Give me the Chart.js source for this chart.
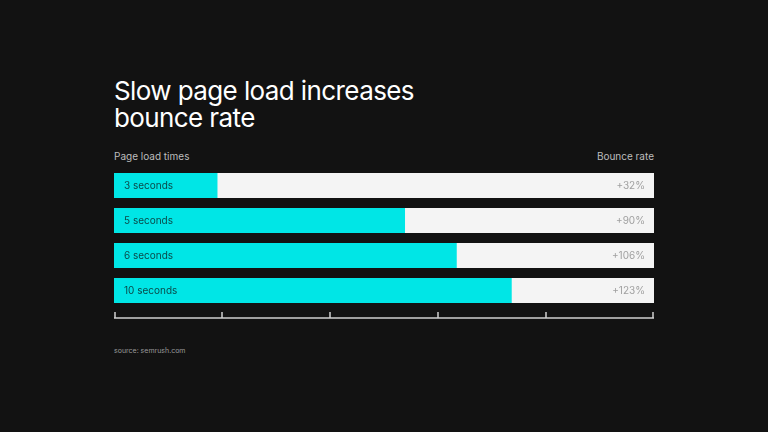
<!DOCTYPE html>
<html><head><meta charset="utf-8">
<script src="https://cdn.jsdelivr.net/npm/chart.js@4"></script>
<style>
html,body{margin:0;padding:0;background:#121212;width:768px;height:432px;overflow:hidden;font-family:Inter,"Noto Sans",sans-serif}
#wrap{position:absolute;left:0;top:0;width:768px;height:432px}
.t{position:absolute;left:114px;top:77px;color:#fff;font-size:26px;line-height:27px;letter-spacing:-0.6px}
.h{position:absolute;top:150px;color:#bdbdbd;font-size:10px}
.s{position:absolute;left:114px;top:346px;color:#9a9a9a;font-size:7px}
</style></head><body>
<div class="t">Slow page load increases<br>bounce rate</div>
<div class="h" style="left:114px">Page load times</div>
<div class="h" style="right:114px">Bounce rate</div>
<div class="s">source: semrush.com</div>
<div id="wrap"><canvas id="c" width="768" height="432"></canvas></div>
<script>
const categories = ["3 seconds","5 seconds","6 seconds","10 seconds"];
const bounceRate = [32, 90, 106, 123];
const valueLabels = ["+32%","+90%","+106%","+123%"];
const axisMax = 167;
const tickValues = [0, 33.4, 66.8, 100.2, 133.6, 167];

const labelPlugin = {
  id:'labels',
  afterDatasetsDraw(chart){
    const ctx = chart.ctx, x = chart.scales.x, y = chart.scales.y;
    ctx.save();
    ctx.font = '10px Inter, "Noto Sans", sans-serif';
    ctx.textBaseline = 'middle';
    categories.forEach((c,i)=>{
      const py = y.getPixelForValue(i);
      ctx.fillStyle = '#0a4a4a'; ctx.textAlign='left';
      ctx.fillText(c, x.left + 10, py);
      ctx.fillStyle = '#a0a0a0'; ctx.textAlign='right';
      ctx.fillText(valueLabels[i], x.right - 9, py);
    });
    // axis
    const ay = 318;
    ctx.strokeStyle = '#d0d0d0'; ctx.lineWidth = 1.5;
    ctx.beginPath(); ctx.moveTo(x.getPixelForValue(0), ay); ctx.lineTo(x.getPixelForValue(axisMax), ay); ctx.stroke();
    tickValues.forEach(v=>{
      let px = Math.round(x.getPixelForValue(v));
      if (px > x.right - 1) px = x.right - 1;
      if (px < x.left + 1) px = x.left + 1;
      ctx.beginPath(); ctx.moveTo(px, ay); ctx.lineTo(px, ay - 6); ctx.stroke();
    });
    ctx.restore();
  }
};

new Chart(document.getElementById('c'), {
  type:'bar',
  data:{
    labels: categories,
    datasets:[
      {data: bounceRate, backgroundColor:'#00e6e6', barPercentage:25/35, categoryPercentage:1, grouped:false, order:0},
      {data: categories.map(()=>axisMax), backgroundColor:'#f4f4f4', barPercentage:25/35, categoryPercentage:1, grouped:false, order:1}
    ]
  },
  options:{
    indexAxis:'y', responsive:false, animation:false,
    layout:{padding:{left:114,right:114,top:168,bottom:124}},
    plugins:{legend:{display:false},tooltip:{enabled:false}},
    scales:{
      x:{display:false,min:0,max:axisMax},
      y:{display:false}
    }
  },
  plugins:[labelPlugin]
});
</script></body></html>
